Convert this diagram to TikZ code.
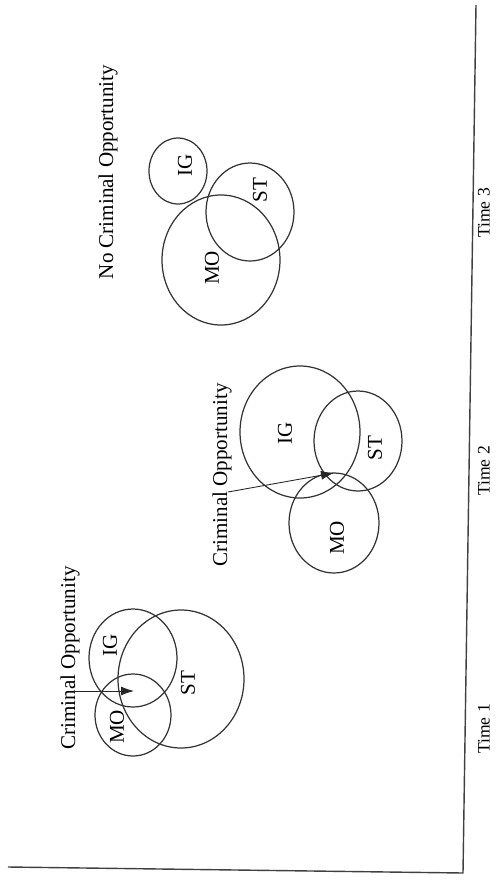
\documentclass[tikz,border=0pt]{standalone}
\usepackage{fontspec}
\setmainfont{Liberation Serif}
\usepackage{tikz}
\usetikzlibrary{arrows.meta,positioning}

\begin{document}
\begin{tikzpicture}[
  x=0.02cm, y=-0.02cm,
  ring/.style={draw=black!80, line width=0.7pt},
  lab/.style={font=\fontsize{12}{14}\selectfont, rotate=90, inner sep=0pt},
  timelab/.style={font=\fontsize{10}{12}\selectfont, rotate=90, inner sep=0pt},
  arrow/.style={-{Latex[length=2.6mm, width=1.8mm]}, line width=0.5pt, black!85}
]
\useasboundingbox (0,0) rectangle (496,880);
% axes
\coordinate (axtop) at (476,5);
\coordinate (corner) at (463,873);
\coordinate (axleft) at (8,867);
\draw[line width=0.8pt, black!75] (axtop) -- (corner) -- (axleft);
\foreach \t/\y in {1/729,2/471,3/213} {
  \node[timelab] (time\t) at (484,\y) {Time \t};
}

% time 1
\draw[ring] (133,658) ellipse [x radius=44, y radius=49];
\draw[ring] (181,679) ellipse [x radius=63, y radius=69];
\draw[ring] (133,715) ellipse [x radius=38, y radius=41];
\node[lab] (igA) at (110,645) {IG};
\node[lab] (stA) at (188,683) {ST};
\node[lab] (moA) at (117,727) {MO};
\node[lab] (coA) at (70,658) {Criminal Opportunity};
\coordinate (startA) at (74,691);
\coordinate (tipA) at (134,691);
\draw[arrow] (startA) -- (tipA);

% time 2
\draw[ring] (300,432) ellipse [x radius=60, y radius=66];
\draw[ring] (358,441) ellipse [x radius=44, y radius=50];
\draw[ring] (334,523) ellipse [x radius=45, y radius=50];
\node[lab] (igB) at (285,433) {IG};
\node[lab] (stB) at (375,448) {ST};
\node[lab] (moB) at (337,538) {MO};
\node[lab] (coB) at (222,475) {Criminal Opportunity};
\coordinate (startB) at (228,492);
\coordinate (tipB) at (334,473);
\draw[arrow] (startB) -- (tipB);

% time 3
\draw[ring] (178,171) ellipse [x radius=29, y radius=33];
\draw[ring] (250,212) ellipse [x radius=44, y radius=49];
\draw[ring] (221,260) ellipse [x radius=59, y radius=65];
\node[lab] (igC) at (185,165) {IG};
\node[lab] (stC) at (260,190) {ST};
\node[lab] (moC) at (212,268) {MO};
\node[lab] (noC) at (108,172) {No Criminal Opportunity};
\end{tikzpicture}
\end{document}
